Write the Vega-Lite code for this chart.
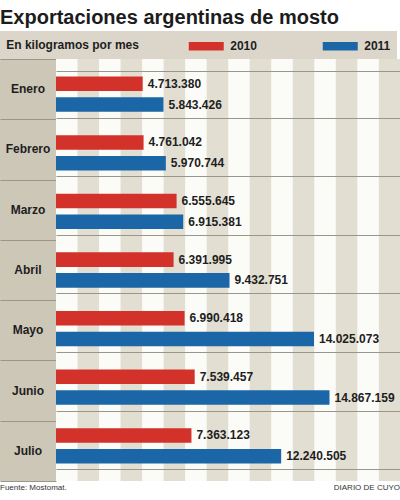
{
  "$schema": "https://vega.github.io/schema/vega-lite/v6.json",
  "padding": {"top": 8, "left": 0, "right": 0, "bottom": 0},
  "background": "white",
  "spacing": 0,
  "bounds": "flush",
  "title": {
    "text": "Exportaciones argentinas de mosto",
    "anchor": "start",
    "frame": "bounds",
    "font": "Liberation Sans",
    "fontSize": 20,
    "fontWeight": "bold",
    "color": "#1c1c1c",
    "offset": 3
  },
  "config": {
    "view": {"stroke": null},
    "axisY": {"minExtent": 0, "maxExtent": 0},
    "locale": {"number": {"decimal": ",", "thousands": ".", "grouping": [3], "currency": ["$", ""]}}
  },
  "datasets": {
    "exports": [
      {"month": "Enero", "year": "2010", "kg": 4713380},
      {"month": "Enero", "year": "2011", "kg": 5843426},
      {"month": "Febrero", "year": "2010", "kg": 4761042},
      {"month": "Febrero", "year": "2011", "kg": 5970744},
      {"month": "Marzo", "year": "2010", "kg": 6555645},
      {"month": "Marzo", "year": "2011", "kg": 6915381},
      {"month": "Abril", "year": "2010", "kg": 6391995},
      {"month": "Abril", "year": "2011", "kg": 9432751},
      {"month": "Mayo", "year": "2010", "kg": 6990418},
      {"month": "Mayo", "year": "2011", "kg": 14025073},
      {"month": "Junio", "year": "2010", "kg": 7539457},
      {"month": "Junio", "year": "2011", "kg": 14867159},
      {"month": "Julio", "year": "2010", "kg": 7363123},
      {"month": "Julio", "year": "2011", "kg": 12240505}
    ],
    "stripes": [
      {"start": 1170000, "end": 2340000},
      {"start": 3510000, "end": 4680000},
      {"start": 5850000, "end": 7020000},
      {"start": 8190000, "end": 9360000},
      {"start": 10530000, "end": 11700000},
      {"start": 12870000, "end": 14040000},
      {"start": 15210000, "end": 16380000},
      {"start": 17550000, "end": 18700000}
    ]
  },
  "hconcat": [
    {
      "width": 56,
      "height": 422,
      "view": {"fill": "#cdc7b7", "stroke": null},
      "title": {"text": "Fuente: Mostomat.", "orient": "bottom", "anchor": "start", "frame": "bounds", "font": "Liberation Sans", "fontSize": 8, "fontWeight": "normal", "color": "#333333", "offset": 3},
      "data": {"name": "exports"},
      "transform": [{"filter": "datum.year === '2010'"}],
      "mark": {"type": "text", "font": "Liberation Sans", "fontWeight": "bold", "fontSize": 12, "color": "#1e1e1e"},
      "encoding": {
        "y": {
          "field": "month", "type": "nominal",
          "sort": ["Enero", "Febrero", "Marzo", "Abril", "Mayo", "Junio", "Julio"],
          "scale": {"paddingInner": 0, "paddingOuter": 0},
          "axis": {"title": null, "labels": false, "ticks": false, "domain": false, "grid": true, "tickBand": "extent", "gridColor": "#9a968a", "gridWidth": 1, "gridOpacity": 1, "zindex": 1, "minExtent": 0, "maxExtent": 0, "offset": 0}
        },
        "text": {"field": "month"}
      }
    },
    {
      "width": 344,
      "height": 422,
      "view": {"fill": "#fbfbf8", "stroke": null},
      "title": {"text": "DIARIO DE CUYO", "orient": "bottom", "anchor": "end", "frame": "bounds", "font": "Liberation Sans", "fontSize": 8, "fontWeight": "normal", "color": "#333333", "offset": 3},
      "layer": [
        {
          "data": {"name": "stripes"},
          "mark": {"type": "rect", "color": "#e2ded2"},
          "encoding": {
            "x": {"field": "start", "type": "quantitative", "scale": {"domain": [0, 18700000], "nice": false, "zero": true}, "axis": null},
            "x2": {"field": "end"}
          }
        },
        {
          "data": {"name": "exports"},
          "mark": {"type": "bar"},
          "encoding": {
            "y": {
              "field": "month", "type": "nominal",
              "sort": ["Enero", "Febrero", "Marzo", "Abril", "Mayo", "Junio", "Julio"],
              "axis": {"title": null, "labels": false, "ticks": false, "domain": false, "grid": true, "tickBand": "extent", "gridColor": "#9a968a", "gridWidth": 1, "gridOpacity": 1, "zindex": 1, "minExtent": 0, "maxExtent": 0, "offset": 0}
            },
            "yOffset": {"field": "year", "type": "nominal", "scale": {"paddingInner": 0.3, "paddingOuter": 0.28}},
            "x": {"field": "kg", "type": "quantitative", "axis": null},
            "color": {
              "field": "year", "type": "nominal",
              "scale": {"domain": ["2010", "2011"], "range": ["#d2322a", "#1b66a6"]},
              "legend": {
                "orient": "top",
                "direction": "horizontal",
                "title": "En kilogramos por mes",
                "titleOrient": "left",
                "titleFont": "Liberation Sans",
                "titleFontSize": 12,
                "titleFontWeight": "bold",
                "titleColor": "#1e1e1e",
                "titlePadding": 58,
                "labelFont": "Liberation Sans",
                "labelFontSize": 12,
                "labelFontWeight": "bold",
                "labelColor": "#1e1e1e",
                "labelOffset": 15,
                "columnPadding": 65,
                "symbolType": "M-2,-0.5H2V0.5H-2Z",
                "symbolSize": 306,
                "symbolStrokeWidth": 0,
                "symbolOpacity": 1,
                "fillColor": "#dbd6c9",
                "padding": 6.25,
                "offset": 0
              }
            }
          }
        },
        {
          "data": {"name": "exports"},
          "mark": {"type": "text", "align": "left", "baseline": "middle", "dx": 5, "font": "Liberation Sans", "fontSize": 12, "fontWeight": "bold", "color": "#1e1e1e"},
          "encoding": {
            "y": {"field": "month", "type": "nominal", "sort": ["Enero", "Febrero", "Marzo", "Abril", "Mayo", "Junio", "Julio"]},
            "yOffset": {"field": "year", "type": "nominal"},
            "x": {"field": "kg", "type": "quantitative"},
            "text": {"field": "kg", "type": "quantitative", "format": ","}
          }
        }
      ]
    }
  ]
}
